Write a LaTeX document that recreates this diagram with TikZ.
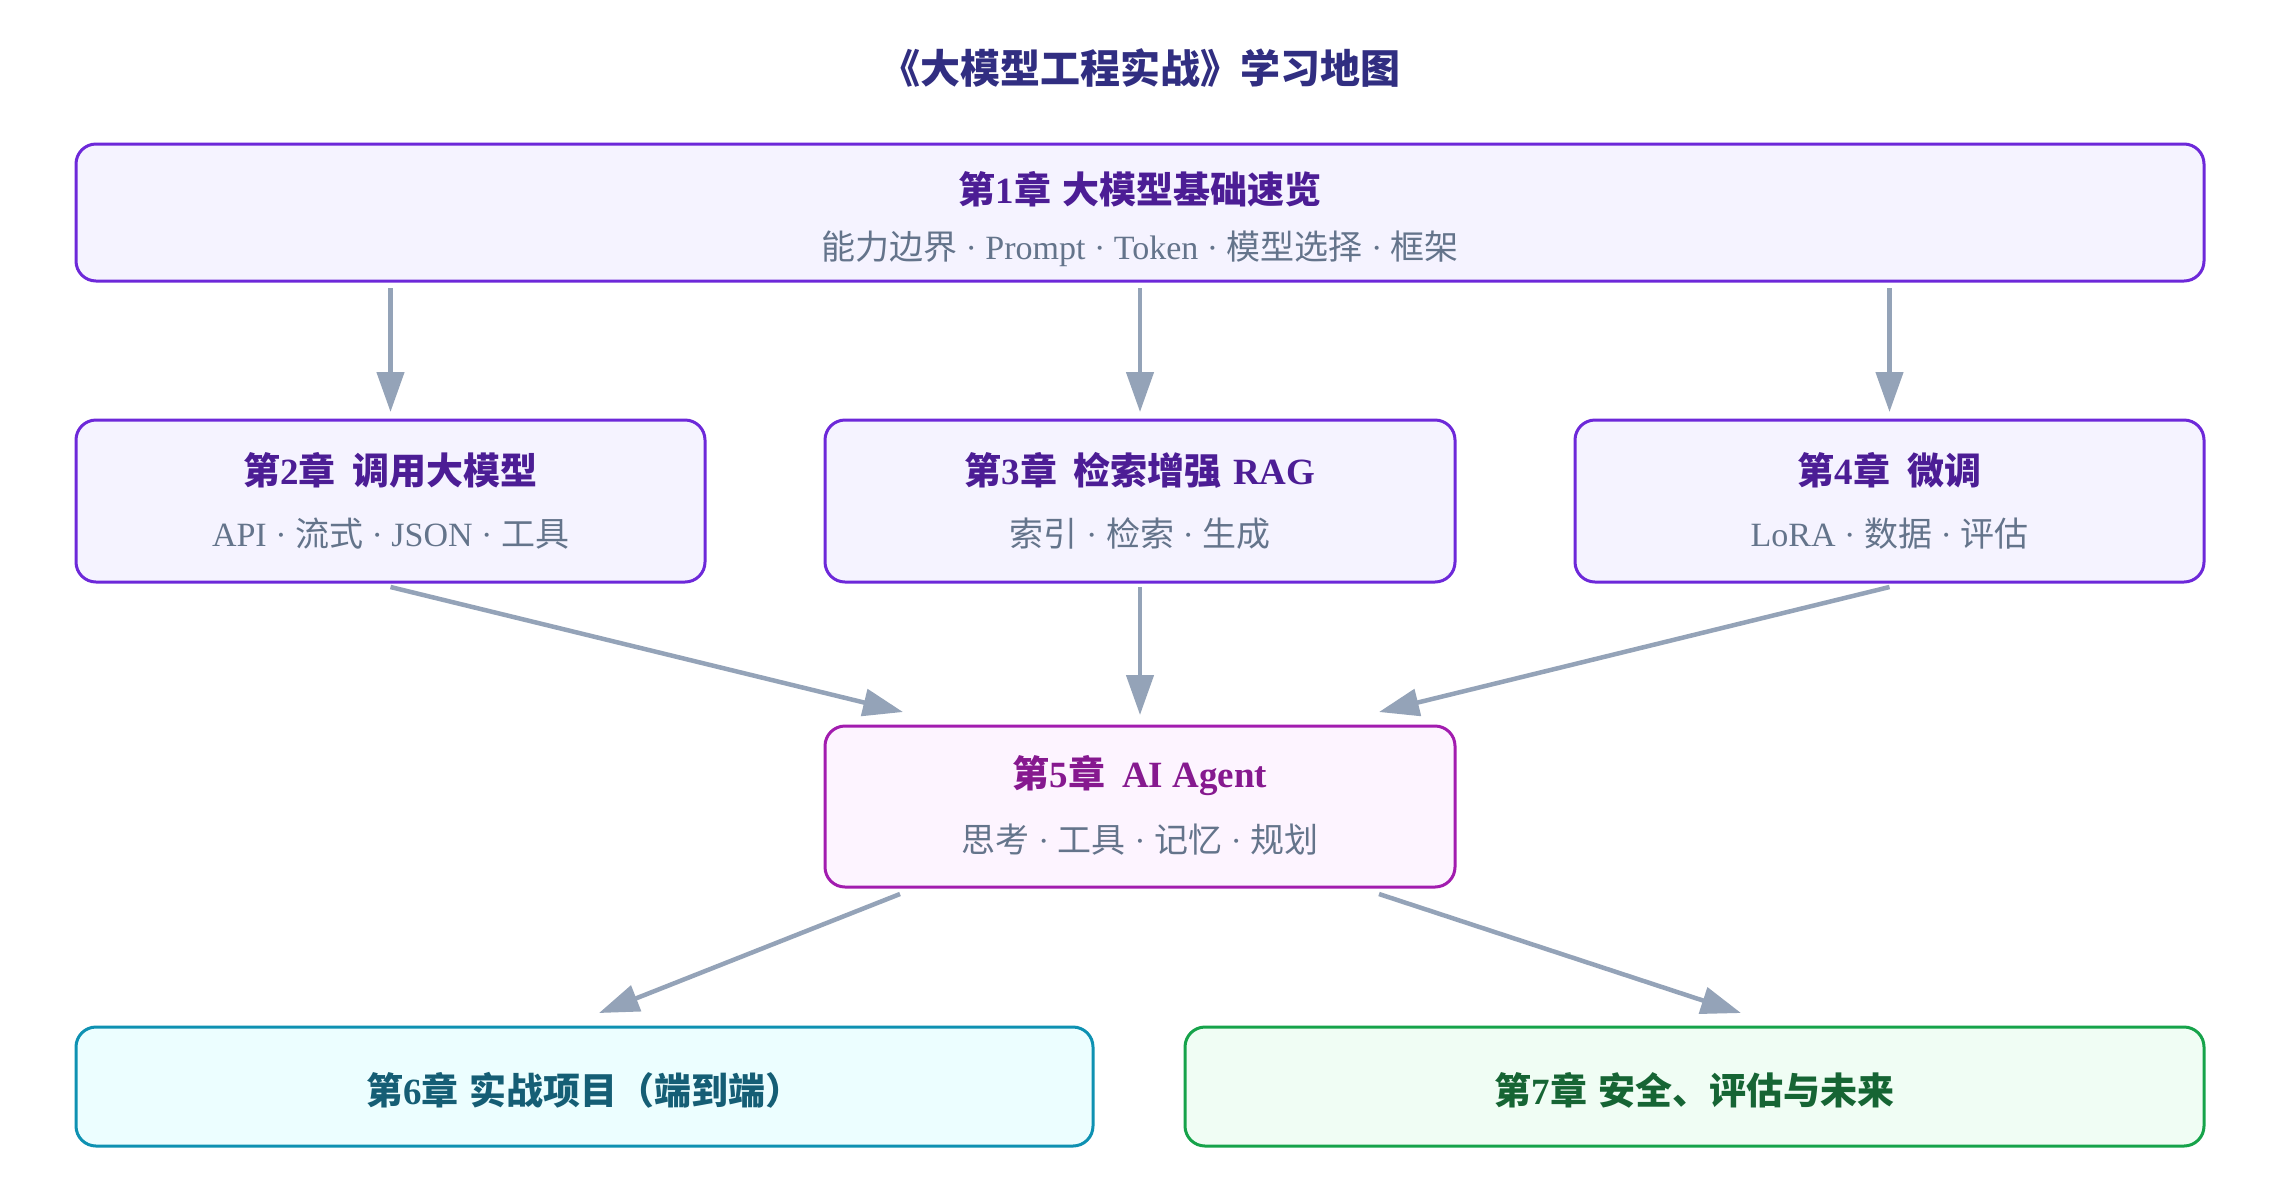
\documentclass[tikz,border=0pt]{standalone}
\usepackage{fontspec}
\setmainfont{Liberation Serif}
\newfontfamily\cjk{Noto Sans CJK SC}
\usetikzlibrary{arrows.meta,calc}
\definecolor{maintitle}{HTML}{312E81}
\definecolor{violetfill}{HTML}{F5F3FF}
\definecolor{violetline}{HTML}{6D28D9}
\definecolor{violettext}{HTML}{4C1D95}
\definecolor{fuchfill}{HTML}{FDF4FF}
\definecolor{fuchline}{HTML}{A21CAF}
\definecolor{fuchtext}{HTML}{86198F}
\definecolor{cyanfill}{HTML}{ECFEFF}
\definecolor{cyanline}{HTML}{0E91B2}
\definecolor{cyantext}{HTML}{155E75}
\definecolor{greenfill}{HTML}{F0FDF4}
\definecolor{greenline}{HTML}{16A34A}
\definecolor{greentext}{HTML}{166534}
\definecolor{subgray}{HTML}{64748B}
\definecolor{arrowc}{HTML}{94A3B8}
\newcommand\zh[1]{{\cjk #1}}
\newcommand\dotsep{\ ·\ }
\tikzset{
  chapbox/.style={rounded corners=20pt, line width=3pt, inner sep=0pt, outer sep=0pt},
  violetbox/.style={chapbox, draw=violetline, fill=violetfill},
  fuchbox/.style={chapbox, draw=fuchline, fill=fuchfill},
  cyanbox/.style={chapbox, draw=cyanline, fill=cyanfill},
  greenbox/.style={chapbox, draw=greenline, fill=greenfill},
  boxtitle/.style={inner sep=0pt, font=\fontsize{37}{44}\selectfont\bfseries},
  boxsub/.style={inner sep=0pt, text=subgray, font=\fontsize{34}{40}\selectfont},
  arr/.style={draw=arrowc, line width=4.5pt, -{Triangle[length=40pt,width=27pt]}},
}
\begin{document}
\begin{tikzpicture}[x=1pt,y=-1pt]
\path[use as bounding box, fill=white] (0,0) rectangle (2280,1176);

\node[inner sep=0pt, text=maintitle, font=\fontsize{40}{47}\selectfont\bfseries\cjk] (title) at (1140,68) {《大模型工程实战》学习地图};

% boxes
\node[violetbox, minimum width=2128pt, minimum height=137pt] (b1) at (1140,212.5) {};
\node[violetbox, minimum width=629pt, minimum height=162pt] (b2) at (390.5,501) {};
\node[violetbox, minimum width=630pt, minimum height=162pt] (b3) at (1140,501) {};
\node[violetbox, minimum width=629pt, minimum height=162pt] (b4) at (1889.5,501) {};
\node[fuchbox, minimum width=630pt, minimum height=161pt] (b5) at (1140,806.5) {};
\node[cyanbox, minimum width=1017pt, minimum height=119pt] (b6) at (584.5,1086.5) {};
\node[greenbox, minimum width=1019pt, minimum height=119pt] (b7) at (1694.5,1086.5) {};

% texts
\node[boxtitle, text=violettext] (b1t) at ([yshift=-45pt]b1.north) {\zh{第}1\zh{章}\hspace{0.3em}\zh{大模型基础速览}};
\node[boxsub] (b1s) at ([yshift=-105pt]b1.north) {\zh{能力边界}\dotsep Prompt\dotsep Token\dotsep\zh{模型选择}\dotsep\zh{框架}};

\node[boxtitle, text=violettext] (b2t) at ([yshift=-50pt]b2.north) {\zh{第}2\zh{章}\hspace{0.45em}\zh{调用大模型}};
\node[boxsub] (b2s) at ([yshift=-114pt]b2.north) {API\dotsep\zh{流式}\dotsep JSON\dotsep\zh{工具}};

\node[boxtitle, text=violettext] (b3t) at ([yshift=-50pt]b3.north) {\zh{第}3\zh{章}\hspace{0.45em}\zh{检索增强}\hspace{0.3em}RAG};
\node[boxsub] (b3s) at ([yshift=-114pt]b3.north) {\zh{索引}\dotsep\zh{检索}\dotsep\zh{生成}};

\node[boxtitle, text=violettext] (b4t) at ([yshift=-50pt]b4.north) {\zh{第}4\zh{章}\hspace{0.45em}\zh{微调}};
\node[boxsub] (b4s) at ([yshift=-114pt]b4.north) {LoRA\dotsep\zh{数据}\dotsep\zh{评估}};

\node[boxtitle, text=fuchtext] (b5t) at ([yshift=-50pt]b5.north) {\zh{第}5\zh{章}\hspace{0.45em}AI Agent};
\node[boxsub] (b5s) at ([yshift=-114pt]b5.north) {\zh{思考}\dotsep\zh{工具}\dotsep\zh{记忆}\dotsep\zh{规划}};

\node[boxtitle, text=cyantext] (b6t) at ([yshift=-4pt]b6.center) {\zh{第}6\zh{章}\hspace{0.3em}\zh{实战项目（端到端）}};
\node[boxtitle, text=greentext] (b7t) at ([yshift=-4pt]b7.center) {\zh{第}7\zh{章}\hspace{0.3em}\zh{安全、评估与未来}};

% connectors
\draw[arr, shorten <=7pt, shorten >=8pt] (b2.north |- b1.south) -- (b2.north);
\draw[arr, shorten <=7pt, shorten >=8pt] (b3.north |- b1.south) -- (b3.north);
\draw[arr, shorten <=7pt, shorten >=8pt] (b4.north |- b1.south) -- (b4.north);

\draw[arr] ([yshift=-5pt]b2.south) -- ([xshift=78pt,yshift=14pt]b5.north west);
\draw[arr] ([yshift=-5pt]b3.south) -- ([yshift=11pt]b5.north);
\draw[arr] ([yshift=-5pt]b4.south) -- ([xshift=-76pt,yshift=14pt]b5.north east);

\draw[arr] ([xshift=75pt,yshift=-7pt]b5.south west) -- ([xshift=14.5pt,yshift=14pt]b6.north);
\draw[arr] ([xshift=-76pt,yshift=-7pt]b5.south east) -- ([xshift=46.5pt,yshift=14pt]b7.north);
\end{tikzpicture}
\end{document}
